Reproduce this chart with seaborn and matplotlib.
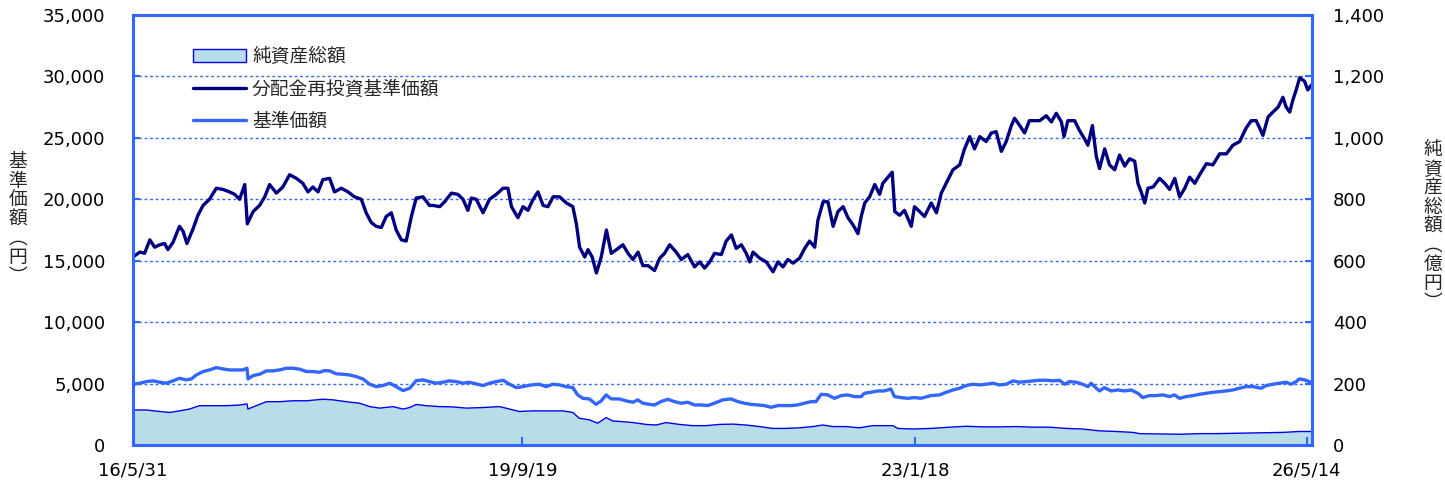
import numpy as np
import pandas as pd
import matplotlib
matplotlib.use("Agg")
import matplotlib.pyplot as plt
import seaborn as sns
from matplotlib.patches import Patch
from matplotlib.lines import Line2D

# ---------------- data ----------------
START_DATE = "2016-05-31"

# 分配金再投資基準価額 (円) : days since start, value
reinvest_days = [
    0, 21, 36, 52, 67, 83, 98, 108, 124, 144,
    155, 167, 186, 201, 217, 237, 258, 279, 299, 315,
    330, 346, 354, 372, 392, 408, 423, 444, 464, 485,
    506, 526, 542, 557, 573, 588, 609, 624, 645, 666,
    686, 707, 722, 738, 753, 769, 784, 800, 815, 831,
    846, 862, 877, 898, 918,
    929, 950, 965, 986, 1006, 1022, 1037, 1048, 1063, 1084,
    1104, 1125, 1146, 1161, 1172, 1192, 1208, 1223, 1239, 1254,
    1270, 1285, 1301, 1321, 1342, 1362, 1373, 1383, 1399, 1409,
    1422, 1435, 1450, 1466, 1481, 1497, 1517, 1533, 1548, 1564,
    1579, 1595, 1615, 1631, 1646, 1662, 1682, 1698, 1718, 1739,
    1755, 1770, 1786, 1801, 1822, 1837, 1853,
    1868, 1884, 1899, 1910, 1920, 1941, 1961, 1982, 1997, 2013,
    2028, 2044, 2064, 2080, 2095, 2111, 2121, 2137, 2152, 2168,
    2183, 2199, 2214, 2230, 2245, 2255, 2266, 2281, 2297, 2312,
    2322, 2338, 2351, 2359, 2374, 2389, 2410, 2420, 2436, 2451,
    2472, 2488, 2503, 2518, 2539, 2560, 2575, 2591, 2606, 2622,
    2642, 2658, 2673, 2689, 2704, 2720, 2730, 2746, 2761, 2776,
    2787, 2808, 2828, 2844, 2859, 2875, 2883, 2895, 2916, 2931,
    2947, 2957, 2971, 2983, 2993, 3009, 3024, 3040, 3055, 3071,
    3086, 3102, 3112, 3122, 3133, 3143, 3159, 3179, 3195, 3210,
    3226, 3241, 3257, 3272, 3288, 3303, 3324, 3344, 3365, 3386,
    3406, 3427, 3447, 3463, 3478, 3489, 3499, 3515, 3530, 3546,
    3561, 3571, 3582, 3592, 3602, 3613, 3628, 3638, 3649,
]
reinvest_values = [
    15300, 15700, 15600, 16700, 16100, 16300, 16400, 15900, 16500, 17800,
    17400, 16400, 17600, 18700, 19500, 20000, 20900, 20800, 20600, 20400,
    20000, 21200, 18000, 19000, 19500, 20200, 21200, 20500, 21000, 22000,
    21700, 21300, 20600, 21000, 20600, 21600, 21700, 20600, 20900, 20600,
    20200, 20000, 18900, 18100, 17800, 17700, 18600, 18900, 17500, 16700,
    16600, 18600, 20100, 20200, 19500,
    19500, 19400, 19800, 20500, 20400, 20000, 19100, 20100, 20000, 18900,
    20000, 20400, 20900, 20900, 19400, 18500, 19400, 19100, 20000, 20600,
    19500, 19400, 20200, 20200, 19700, 19400, 18000, 16100, 15300, 15900,
    15300, 14000, 15300, 17500, 15600, 15900, 16300, 15600, 15100, 15700,
    14600, 14600, 14200, 15200, 15600, 16300, 15700, 15100, 15500, 14500,
    14900, 14400, 14900, 15600, 15500, 16600, 17100,
    16000, 16300, 15600, 14900, 15700, 15200, 14900, 14100, 14900, 14500,
    15100, 14800, 15200, 16000, 16600, 16100, 18300, 19800, 19800, 17800,
    19000, 19400, 18500, 17900, 17200, 18600, 19700, 20200, 21200, 20400,
    21300, 21800, 22200, 19000, 18700, 19100, 17800, 19400, 19000, 18600,
    19700, 18900, 20500, 21300, 22400, 22800, 24100, 25100, 24100, 25100,
    24700, 25400, 25500, 23900, 24700, 26000, 26600, 26000, 25400, 26400,
    26400, 26400, 26800, 26300, 27000, 26300, 25100, 26400, 26400, 25600,
    24900, 24400, 26000, 23500, 22500, 24100, 22800, 22400, 23600, 22700,
    23300, 23100, 21300, 20600, 19700, 20900, 21000, 21700, 21300, 20800,
    21700, 20200, 20900, 21800, 21300, 22000, 22900, 22800, 23700, 23700,
    24400, 24700, 25800, 26400, 26400, 25800, 25200, 26700, 27100, 27500,
    28300, 27500, 27100, 28100, 28900, 29900, 29600, 28900, 29300,
]

# 基準価額 (円)
price_days = [
    0, 21, 41, 62, 83, 103, 124, 144, 165, 181,
    196, 217, 237, 258, 279, 299, 320, 341, 353, 356,
    372, 392, 413, 433, 454, 475, 495, 516, 537, 557,
    578, 593, 609, 630, 650, 671, 691, 712, 733, 753,
    774, 795, 815, 836, 857, 877, 898, 918, 939, 960,
    980, 1001, 1022, 1042, 1063, 1084, 1104, 1125, 1146, 1166,
    1187, 1207, 1233,
    1259, 1279, 1300, 1321, 1341, 1362, 1377, 1393, 1413, 1434,
    1450, 1465, 1481, 1506, 1527, 1548, 1563, 1579, 1599, 1615,
    1635, 1656, 1677, 1697, 1718, 1739, 1759, 1780, 1800, 1826,
    1852, 1873, 1893, 1914, 1935, 1955, 1976, 1997, 2017, 2038,
    2058, 2079, 2100, 2115, 2131, 2151, 2172, 2193, 2213, 2234,
    2255, 2265, 2285, 2306, 2327, 2347, 2358, 2378, 2399, 2420,
    2440, 2471,
    2498, 2518, 2539, 2560, 2580, 2601, 2621, 2642, 2663, 2683,
    2704, 2725, 2745, 2766, 2787, 2807, 2828, 2849, 2869, 2885,
    2900, 2921, 2941, 2957, 2967, 2983, 2993, 3008, 3029, 3050,
    3070, 3091, 3112, 3127, 3148, 3168, 3189, 3210, 3225, 3241,
    3261, 3282, 3303, 3323, 3344, 3365, 3385, 3406, 3426, 3447,
    3468, 3494, 3509, 3530, 3550, 3571, 3586, 3602, 3612, 3628,
    3643, 3650,
]
price_values = [
    4945, 5030, 5160, 5220, 5110, 5030, 5220, 5430, 5300, 5380,
    5700, 5980, 6110, 6300, 6190, 6110, 6110, 6110, 6250, 5380,
    5650, 5760, 6030, 6030, 6110, 6250, 6250, 6170, 5980, 5980,
    5920, 6060, 6030, 5790, 5760, 5700, 5570, 5380, 4945, 4750,
    4840, 5030, 4750, 4430, 4620, 5240, 5300, 5160, 5030, 5110,
    5220, 5160, 5030, 5110, 4970, 4840, 5030, 5160, 5270, 4945,
    4670, 4750, 4890,
    4945, 4750, 4945, 4890, 4750, 4670, 4080, 3800, 3750, 3310,
    3590, 4080, 3750, 3750, 3590, 3480, 3670, 3400, 3310, 3260,
    3530, 3720, 3530, 3400, 3480, 3260, 3260, 3210, 3400, 3670,
    3750, 3530, 3400, 3310, 3260, 3210, 3070, 3210, 3210, 3210,
    3260, 3400, 3530, 3530, 4130, 4080, 3800, 4020, 4080, 3940,
    3940, 4210, 4290, 4400, 4400, 4560, 3940, 3860, 3800, 3860,
    3800, 4020,
    4080, 4290, 4480, 4620, 4840, 4945, 4890, 4945, 5030, 4890,
    4945, 5220, 5110, 5160, 5220, 5270, 5270, 5220, 5270, 4945,
    5160, 5110, 4945, 4750, 5030, 4620, 4400, 4670, 4400, 4480,
    4400, 4480, 4210, 3860, 4020, 4020, 4080, 3940, 4080, 3800,
    3940, 4020, 4130, 4210, 4290, 4350, 4400, 4480, 4620, 4750,
    4750, 4620, 4840, 4945, 5030, 5110, 4945, 5160, 5380, 5300,
    5160, 5030,
]

# 純資産総額 (億円)
assets_days = [
    0, 41, 83, 114, 144, 175, 206, 248, 289, 330,
    353, 356, 382, 413, 454, 495, 537, 588, 619, 660,
    702, 733, 764, 805, 836, 857, 877, 908, 949, 991,
    1032, 1084, 1135, 1166, 1197, 1233,
    1269, 1300, 1331, 1362, 1382, 1413, 1439, 1465, 1486, 1517,
    1548, 1589, 1620, 1651, 1692, 1733, 1775, 1816, 1857, 1898,
    1940, 1981, 2022, 2064, 2105, 2136, 2167, 2208, 2249, 2291,
    2332, 2353, 2368, 2414, 2471,
    2529, 2580, 2632, 2683, 2735, 2787, 2838, 2890, 2941, 2993,
    3045, 3096, 3117, 3179, 3241, 3303, 3354, 3406, 3457, 3509,
    3561, 3612, 3650,
]
assets_values = [
    114, 114, 109, 106, 111, 117, 128, 128, 128, 130,
    134, 117, 128, 141, 141, 144, 144, 149, 147, 141,
    136, 125, 120, 125, 117, 122, 132, 128, 125, 124,
    120, 122, 125, 117, 109, 111,
    111, 111, 111, 106, 87, 82, 71, 89, 78, 76,
    73, 67, 65, 73, 67, 63, 63, 67, 68, 65,
    60, 54, 54, 56, 60, 65, 60, 60, 56, 63,
    63, 63, 54, 52, 54,
    58, 61, 59, 59, 60, 58, 58, 54, 52, 46,
    44, 41, 37, 36, 35, 37, 37, 38, 39, 40,
    41, 44, 44,
]

tick_dates = ["2016-05-31", "2019-09-19", "2023-01-18", "2026-05-14"]
tick_labels = ["16/5/31", "19/9/19", "23/1/18", "26/5/14"]
left_ticks = [0, 5000, 10000, 15000, 20000, 25000, 30000, 35000]
right_ticks = [0, 200, 400, 600, 800, 1000, 1200, 1400]
series_names = ["純資産総額", "分配金再投資基準価額", "基準価額"]
left_axis_label = "基準価額︵円︶"
right_axis_label = "純資産総額︵億円︶"
x_span_days = 3651

# ---------------- style ----------------
sns.set_theme(style="white")
plt.rcParams["font.family"] = ["DejaVu Sans", "Noto Sans CJK JP"]

BLUE = "#3366FF"
NAVY = "#000080"
FILL = "#B7DDE8"
EDGE = "#0000EE"

start = pd.Timestamp(START_DATE)
df_re = pd.DataFrame({"date": start + pd.to_timedelta(reinvest_days, unit="D"),
                      "value": reinvest_values})
df_pr = pd.DataFrame({"date": start + pd.to_timedelta(price_days, unit="D"),
                      "value": price_values})
df_as = pd.DataFrame({"date": start + pd.to_timedelta(assets_days, unit="D"),
                      "value": assets_values})

W, H = 1445, 486
fig = plt.figure(figsize=(W / 100, H / 100), dpi=100)
ax = fig.add_axes([133 / W, 41 / H, 1179 / W, 430 / H])
ax2 = ax.twinx()
ax.set_zorder(ax2.get_zorder() + 1)
ax.patch.set_visible(False)

# net assets (right axis)
ax2.fill_between(df_as["date"], 0, df_as["value"], color=FILL, linewidth=0)
sns.lineplot(data=df_as, x="date", y="value", ax=ax2, color=EDGE,
             linewidth=1.0, estimator=None)

# prices (left axis)
sns.lineplot(data=df_pr, x="date", y="value", ax=ax, color=BLUE,
             linewidth=2.4, estimator=None)
sns.lineplot(data=df_re, x="date", y="value", ax=ax, color=NAVY,
             linewidth=2.4, estimator=None)

ax.set_xlim(start, start + pd.Timedelta(days=x_span_days))
ax.set_ylim(0, 35000)
ax2.set_ylim(0, 1400)

ax.set_xticks(pd.to_datetime(tick_dates))
ax.set_xticklabels(tick_labels)
ax.set_yticks(left_ticks)
ax.set_yticklabels([f"{v:,}" for v in left_ticks])
ax2.set_yticks(right_ticks)
ax2.set_yticklabels([f"{v:,}" for v in right_ticks])

for a in (ax, ax2):
    a.set_xlabel("")
    a.set_ylabel("")

ax.grid(False)
ax2.grid(False)
for v in left_ticks[1:-1]:
    ax.axhline(v, color=BLUE, linewidth=1.0, linestyle=(0, (2, 2)), zorder=0.5)

for s in ax.spines.values():
    s.set_visible(True)
    s.set_color(BLUE)
    s.set_linewidth(2.2)
for s in ax2.spines.values():
    s.set_visible(False)

ax.tick_params(axis="y", direction="in", length=5, width=1.5, color=BLUE,
               pad=20, labelsize=13, labelcolor="black", left=True)
ax.tick_params(axis="x", direction="in", length=6, width=1.5, color=BLUE,
               pad=12, labelsize=13, labelcolor="black", bottom=True)
ax2.tick_params(axis="y", direction="in", length=5, width=1.5, color=BLUE,
                pad=15, labelsize=13, labelcolor="black", right=True)

handles = [
    Patch(facecolor=FILL, edgecolor=EDGE, linewidth=1.0),
    Line2D([], [], color=NAVY, linewidth=2.4),
    Line2D([], [], color=BLUE, linewidth=2.4),
]
ax.legend(handles, series_names, loc="upper left",
          bbox_to_anchor=(193 / W, 1 - 47 / H), bbox_transform=fig.transFigure,
          frameon=False, fontsize=13.5, handlelength=2.8, handletextpad=0.35,
          labelspacing=0.72, borderpad=0, borderaxespad=0)

fig.text(18 / W, 1 - 219 / H, "\n".join(left_axis_label), ha="center",
         va="center", fontsize=13.5, linespacing=1.0)
fig.text(1433 / W, 1 - 226 / H, "\n".join(right_axis_label), ha="center",
         va="center", fontsize=13.5, linespacing=1.0)

fig.savefig("out.png", dpi=100)
